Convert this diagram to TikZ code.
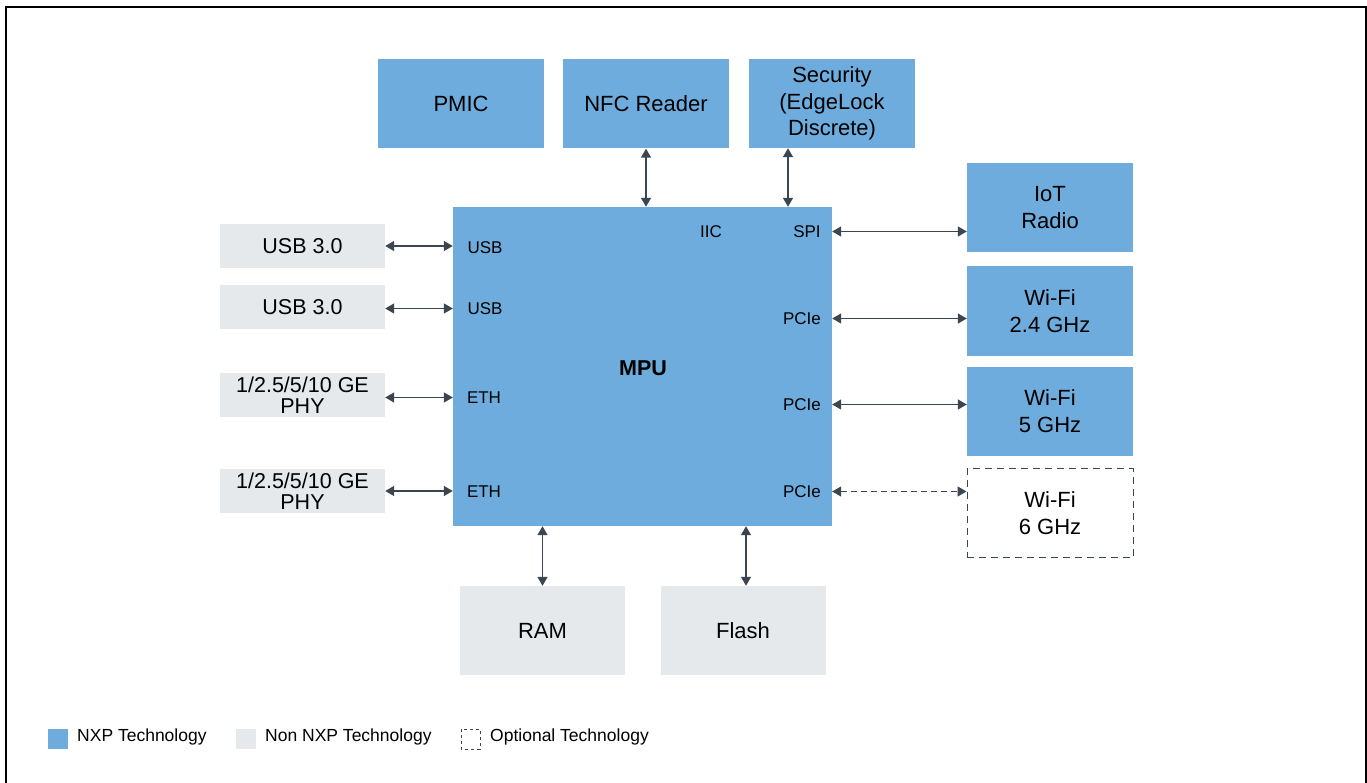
\documentclass[tikz,border=0pt]{standalone}
\usepackage{fontspec}
\setmainfont{Liberation Sans}
\usetikzlibrary{arrows.meta}

\definecolor{nxpblue}{HTML}{6FACDE}
\definecolor{nonnxp}{HTML}{E5E9EC}
\definecolor{linkgray}{HTML}{3C4650}

\begin{document}
\begin{tikzpicture}[x=1pt, y=-1pt,
    nxp/.style={fill=nxpblue, minimum width=166pt, minimum height=89pt, inner sep=0pt, align=center,
      font=\fontsize{22}{26.5}\selectfont},
    other/.style={fill=nonnxp, minimum width=165pt, minimum height=44pt, inner sep=0pt, align=center,
      font=\fontsize{21.5}{21}\selectfont},
    optional/.style={draw=linkgray, dash pattern=on 7pt off 5pt, line width=1pt, minimum width=166pt,
      minimum height=89pt, inner sep=0pt, align=center, font=\fontsize{22}{26.5}\selectfont},
    port/.style={font=\fontsize{17}{17}\selectfont, inner sep=0pt},
    link/.style={draw=linkgray, line width=1.4pt, {Triangle[length=9pt,width=10pt]}-{Triangle[length=9pt,width=10pt]}},
    legend/.style={anchor=west, inner sep=0pt, font=\fontsize{17.5}{17.5}\selectfont}]

      \useasboundingbox (0,0) rectangle (1367,783);
      \draw[line width=2pt] (6,783) -- (6,7) -- (1366,7) -- (1366,783);

      % top row
      \node[nxp] (pmic) at (461,104) {PMIC};
      \node[nxp] (nfc) at (646,104) {NFC Reader};
      \node[nxp] (sec) at (832,103.5) {Security\\(EdgeLock\\Discrete)};

      % processor
      \node[fill=nxpblue, minimum width=379pt, minimum height=319pt, inner sep=0pt] (mpu) at (642.5,366.5) {};
      \node[font=\bfseries\fontsize{21.5}{21.5}\selectfont] (mpulabel) at (643,368) {MPU};

      \node[port] (usbportA) at (485,247.5) {USB};
      \node[port] (usbportB) at (485,308.5) {USB};
      \node[port] (ethportA) at (484,397.5) {ETH};
      \node[port] (ethportB) at (484,491.5) {ETH};
      \node[port] (iicport) at (711,231.5) {IIC};
      \node[port] (spiport) at (807,231.5) {SPI};
      \node[port] (pcieportA) at (802,318.5) {PCIe};
      \node[port] (pcieportB) at (802,404.5) {PCIe};
      \node[port] (pcieportC) at (802,491.5) {PCIe};

      % left side
      \node[other] (usbA) at (302.5,246) {USB 3.0};
      \node[other] (usbB) at (302.5,307) {USB 3.0};
      \node[other] (phyA) at (302.5,395) {1/2.5/5/10 GE\\PHY};
      \node[other] (phyB) at (302.5,491) {1/2.5/5/10 GE\\PHY};

      % right side
      \node[nxp] (iot) at (1050,207.5) {IoT\\Radio};
      \node[nxp] (wifiA) at (1050,311) {Wi-Fi\\2.4 GHz};
      \node[nxp] (wifiB) at (1050,411) {Wi-Fi\\5 GHz};
      \node[optional] (wifiC) at (1050,513) {Wi-Fi\\6 GHz};

      % bottom row
      \node[other, minimum height=89pt, font=\fontsize{22}{22}\selectfont] (ram) at (542.5,630.5) {RAM};
      \node[other, minimum height=89pt, font=\fontsize{22}{22}\selectfont] (flash) at (743,630.5) {Flash};

      % connections
      \draw[link] (nfc.south) -- (nfc.south |- mpu.north);
      \draw[link] ([xshift=-44pt]sec.south) -- ([xshift=-44pt]sec.south |- mpu.north);
      \draw[link] (usbA.east) -- (usbA -| mpu.west);
      \draw[link] (usbB.east |- usbportB) -- (usbportB -| mpu.west);
      \draw[link] (phyA.east |- ethportA) -- (ethportA -| mpu.west);
      \draw[link] (phyB.east) -- (phyB -| mpu.west);
      \draw[link] (mpu.east |- spiport) -- (iot.west |- spiport);
      \draw[link] (mpu.east |- pcieportA) -- (wifiA.west |- pcieportA);
      \draw[link] (mpu.east |- pcieportB) -- (wifiB.west |- pcieportB);
      \draw[link, line width=1.2pt, dash pattern=on 6pt off 4pt] (mpu.east |- pcieportC) -- (wifiC.west |- pcieportC);
      \draw[link] (ram.north) -- (ram.north |- mpu.south);
      \draw[link] ([xshift=3pt]flash.north) -- ([xshift=3pt]flash.north |- mpu.south);

      % legend
      \fill[nxpblue] (48,729) rectangle (68,749);
      \node[legend] (keynxp) at (77,737) {NXP Technology};
      \fill[nonnxp] (236,729) rectangle (256,749);
      \node[legend] (keyother) at (265,737) {Non NXP Technology};
      \draw[linkgray, dash pattern=on 3pt off 3pt] (461,729) rectangle (480,749);
      \node[legend] (keyoptional) at (490,737) {Optional Technology};

    \end{tikzpicture}
\end{document}
